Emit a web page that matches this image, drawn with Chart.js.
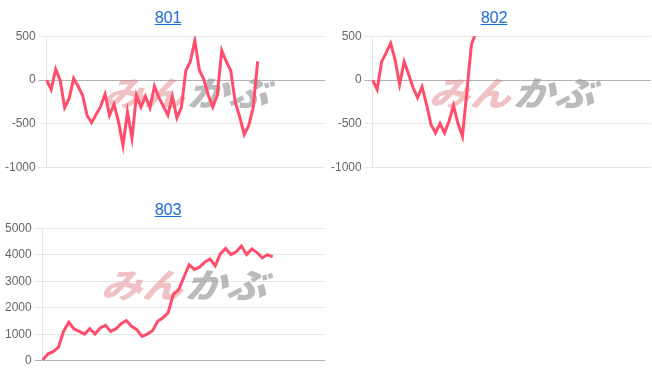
<!DOCTYPE html>
<html>
<head>
<meta charset="utf-8">
<script src="https://cdn.jsdelivr.net/npm/chart.js@4"></script>
<style>
  body { margin: 0; background: #fff; font-family: "Liberation Sans", Arial, sans-serif; }
  .block { position: absolute; width: 326px; height: 192px; }
  .block .ttl { position: absolute; left: 10px; right: 0; top: 8px; height: 20px; line-height: 20px; text-align: center; font-size: 16px; }
  .block .ttl a { color: #1a6fd6; text-decoration: underline; }
  .block canvas { position: absolute; left: 2px; top: 26px; }
</style>
</head>
<body>
<div class="block" style="left:0;top:0"><div class="ttl"><a href="#">801</a></div><canvas id="c801" width="323" height="152"></canvas></div>
<div class="block" style="left:326px;top:0"><div class="ttl"><a href="#">802</a></div><canvas id="c802" width="323" height="152"></canvas></div>
<div class="block" style="left:0;top:192px"><div class="ttl"><a href="#">803</a></div><canvas id="c803" width="323" height="153"></canvas></div>
<script>
// hidden x axis: one slot per day
const days801 = Array.from({ length: 63 }, (_, i) => i + 1);
const days802 = Array.from({ length: 63 }, (_, i) => i + 1);
const days803 = Array.from({ length: 55 }, (_, i) => i + 1);

const values801 = [0, -108, 123, 0, -315, -212, 20, -70, -173, -404, -485, -392, -304, -162, -400,
  -277, -477, -746, -365, -662, -173, -308, -185, -315, -70, -200, -300, -400, -185, -430,
  -315, 108, 212, 450, 115, 8, -173, -308, -173, 338, 212, 108, -250, -420, -620, -520, -315, 212];
const values802 = [0, -107, 210, 313, 420, 229, -50, 210, 65, -88, -202, -76, -279, -508, -603,
  -496, -603, -469, -290, -496, -641, -120, 408, 540];
const values803 = [30, 255, 344, 510, 1110, 1454, 1200, 1110, 1008, 1212, 1008, 1237, 1339, 1110, 1200,
  1403, 1518, 1301, 1173, 918, 1008, 1135, 1492, 1620, 1811, 2513, 2679, 3150, 3622, 3444,
  3530, 3720, 3840, 3580, 4040, 4235, 4005, 4107, 4330, 4005, 4220, 4082, 3880, 4005, 3916];

const ticksSmall = { min: -1000, max: 500, step: 500 };
const ticksBig = { min: 0, max: 5000, step: 1000 };

Chart.defaults.font.family = '"Liberation Sans", Arial, sans-serif';
Chart.defaults.font.size = 12;
Chart.defaults.color = '#666';

const watermark = {
  id: 'watermark',
  beforeDatasetsDraw(chart) {
    const { ctx, chartArea: a } = chart;
    const cx = (a.left + a.right) / 2 + 3;
    const cy = (a.top + a.bottom) / 2 - 9;
    ctx.save();
    ctx.translate(cx, cy);
    ctx.scale(1.2, 1);
    ctx.transform(1, 0, -0.3, 1, 0, 0);
    ctx.font = '900 34px "Noto Sans CJK JP"';
    ctx.textBaseline = 'middle';
    ctx.textAlign = 'right';
    ctx.fillStyle = 'rgba(222,120,125,0.45)';
    ctx.fillText('みん', 0, 0);
    ctx.textAlign = 'left';
    ctx.fillStyle = 'rgba(150,150,150,0.65)';
    ctx.fillText('かぶ', 2, 0);
    ctx.restore();
  }
};

function makeChart(id, labels, values, range) {
  return new Chart(document.getElementById(id), {
    type: 'line',
    data: {
      labels,
      datasets: [{
        data: values,
        borderColor: '#ff4d6b',
        borderWidth: 3,
        pointRadius: 0,
        tension: 0,
        fill: false
      }]
    },
    options: {
      responsive: false,
      animation: false,
      plugins: { legend: { display: false }, tooltip: { enabled: false } },
      scales: {
        x: { display: false },
        y: {
          min: range.min,
          max: range.max,
          ticks: { stepSize: range.step, callback: v => String(v) },
          grid: {
            color: c => (c.tick && c.tick.value === 0) ? 'rgba(0,0,0,0.3)' : 'rgba(0,0,0,0.1)'
          }
        }
      }
    },
    plugins: [watermark]
  });
}

makeChart('c801', days801, values801, ticksSmall);
makeChart('c802', days802, values802, ticksSmall);
makeChart('c803', days803, values803, ticksBig);
</script>
</body>
</html>
